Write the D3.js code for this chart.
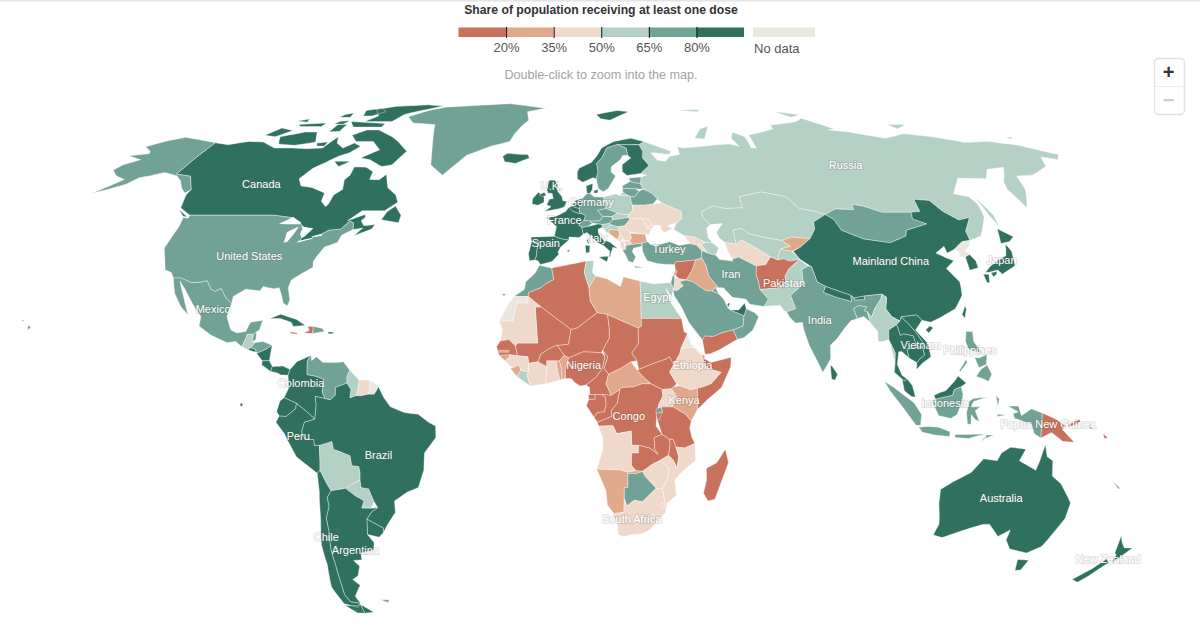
<!DOCTYPE html>
<html>
<head>
<meta charset="utf-8">
<style>
  body { margin: 0; background: #fff; }
  svg { display: block; font-family: "Liberation Sans", Arial, sans-serif; }
  .label { fill: #fff; font-size: 11px; text-anchor: middle; paint-order: stroke; stroke: rgba(90,90,90,.16); stroke-width: 2.5px; stroke-linejoin: round; }
</style>
<script src="https://cdn.jsdelivr.net/npm/d3@7"></script>
</head>
<body>
<svg id="map" width="1200" height="637"></svg>
<script>
// Legend
var legendTicks = [20, 35, 50, 65, 80];
var legendColors = ["#c8715d", "#e0a98b", "#efd9ca", "#b5d0c5", "#72a295", "#30705f"];
var noDataColor = "#eae7e0";

// Shares of population (percent, read from the colour bands; null is no data)
var northAmericaNames = ["Canada", "United States", "Alaska", "Greenland", "Mexico", "Guatemala", "Belize", "El Salvador", "Honduras", "Nicaragua", "Costa Rica", "Panama", "Cuba", "Jamaica", "Haiti", "Dominican Rep.", "Puerto Rico", "Hawaii"];
var northAmericaShares = [82, 70, 70, 70, 67, 52, 66, 82, 66, 81, 84, 81, 90, 18, 2, 65, 80, 70];

var southAmericaNames = ["Colombia", "Venezuela", "Guyana", "Suriname", "French Guiana", "Ecuador", "Peru", "Bolivia", "Paraguay", "Brazil", "Uruguay", "Argentina", "Chile", "Galapagos", "Falklands"];
var southAmericaShares = [81, 70, 60, 45, null, 84, 82, 55, 55, 83, 84, 88, 91, 84, 70];

var europeNames = ["Russia", "Iceland", "Ireland", "United Kingdom", "Norway", "Sweden", "Finland", "Denmark", "Estonia", "Latvia", "Lithuania", "Belarus", "Poland", "Germany", "Netherlands", "Belgium", "France", "Spain", "Portugal", "Italy", "Switzerland", "Austria", "Czechia", "Slovakia", "Hungary", "Slovenia", "Croatia", "Bosnia", "Serbia", "Montenegro", "Albania", "North Macedonia", "Greece", "Bulgaria", "Romania", "Moldova", "Ukraine"];
var europeShares = [55, 82, 82, 81, 81, 75, 81, 82, 66, 70, 70, 66, 60, 76, 80, 80, 81, 86, 92, 84, 70, 75, 65, 52, 65, 60, 56, 28, 48, 46, 44, 40, 72, 30, 42, 36, 37];

var africaNames = ["Morocco", "Western Sahara", "Algeria", "Tunisia", "Libya", "Egypt", "Sudan", "South Sudan", "Chad", "Niger", "Mali", "Mauritania", "Senegal", "Gambia", "Guinea-Bissau", "Guinea", "Sierra Leone", "Liberia", "Ivory Coast", "Ghana", "Togo", "Benin", "Burkina Faso", "Nigeria", "Cameroon", "Central African Rep.", "Gabon", "Eq. Guinea", "Congo Rep.", "Congo", "Uganda", "Kenya", "Tanzania", "Rwanda", "Burundi", "Ethiopia", "Eritrea", "Djibouti", "Somalia", "Angola", "Zambia", "Malawi", "Mozambique", "Zimbabwe", "Namibia", "Botswana", "South Africa", "Lesotho", "eSwatini", "Madagascar"];
var africaShares = [68, null, 18, 60, 25, 55, 15, 12, 5, 14, 12, 45, 8, 22, 28, 42, 30, 58, 42, 36, 25, 28, 14, 15, 5, 30, 13, 17, 12, 4, 40, 24, 6, 72, 1, 37, null, 22, 12, 38, 19, 12, 44, 41, 22, 66, 39, 40, 38, 6];

var asiaNames = ["Turkey", "Georgia", "Armenia", "Azerbaijan", "Kazakhstan", "Turkmenistan", "Uzbekistan", "Kyrgyzstan", "Tajikistan", "Afghanistan", "Pakistan", "Iran", "Iraq", "Syria", "Lebanon", "Israel", "Jordan", "Saudi Arabia", "Yemen", "Oman", "UAE", "Qatar", "Kuwait", "Mongolia", "Mainland China", "North Korea", "South Korea", "Japan", "Taiwan", "India", "Nepal", "Bhutan", "Bangladesh", "Sri Lanka", "Myanmar", "Thailand", "Laos", "Vietnam", "Cambodia", "Malaysia", "Indonesia", "Timor-Leste", "Philippines"];
var asiaShares = [68, 38, 36, 52, 54, 48, 55, 22, 52, 15, 58, 72, 25, 16, 32, 68, 46, 71, 3, 66, 98, 96, 78, 67, 88, null, 87, 80, 83, 72, 81, 88, 74, 82, 52, 82, 81, 90, 89, 84, 74, 66, 68];

var oceaniaNames = ["Australia", "New Zealand", "Papua New Guinea", "New Caledonia", "Solomon Islands"];
var oceaniaShares = [84, 82, 4, 66, 12];

var northAmericaOutlines = {
  "Canada": [
    "-141 69.6 -135 69 -128 70 -122 69.8 -115 68 -108 68 -102 67.8 -96 68 -94 71.5 -92 69.5 -88 68 -85 69.5 -81.5 68.5 -84 66.5 -87 65.5 -90 63.7 -93 62 -95 59 -92.5 57 -88 56.5 -82.5 55 -82 52.8 -79.5 51.3 -79 52 -79 54.5 -77 56 -78.5 58.7 -77.5 60 -78 62.4 -73.5 62.3 -70 61 -69.5 58.8 -66 58.7 -64.5 60.3 -61.5 56.5 -57.5 54.5 -55.8 52.5 -59 50.2 -66.5 50.2 -70 47.5 -65 49.2 -64.5 48.5 -65.5 47.5 -64 46.2 -60.5 46.5 -61 45.3 -66 43.6 -64 45.6 -67 45.2 -67.8 47 -69.2 47.4 -71 45.3 -74.7 45 -76.5 44 -79 43.3 -79 42.8 -83 42 -82.4 43 -82.5 45.3 -84.5 46.5 -88.4 48.3 -95 49 -123 49 -128 51 -130 54.5 -130 56 -135 59.7 -141 60.3",
    "-80 73.7 -72 71.5 -68 70 -62 67 -64.5 63 -68 62.5 -74 64.5 -78 65 -73 67.5 -78 70 -85 70 -89 72 -85 73.7",
    "-118 71.5 -110 73 -105 73 -101 69.8 -108 68.8 -115 69.2",
    "-125 72 -122 74.3 -116 73.5 -120 71.5",
    "-90 76.5 -87 78.5 -92 81 -85 82.3 -70 83 -62 82.5 -70 80.5 -76 79 -78 76.5",
    "-96 76.5 -80 75.8 -80 74.6 -92 74.6",
    "-117 75.5 -106 76 -106 74.8 -115 74.8",
    "-96 80.5 -90 81.5 -86 80 -90 78.5 -94 78.5",
    "-103 79 -100 79.5 -99 78 -104 78",
    "-100 75.5 -96 75.5 -96 73.3 -100 73",
    "-101 76.6 -97 76.8 -98 75.6 -102 75.7",
    "-120 76.7 -116 77.4 -115 76.3",
    "-100 69.5 -96 69.8 -96 68.6 -99 68.6",
    "-87 64 -81 64 -84 62.5",
    "-59 47.8 -53 47 -53 49 -56 51.5 -58 50",
    "-128 50.5 -123.5 48.5 -125 48.7"
  ],
  "United States": ["-123 49 -95 49 -88.4 48.3 -84.5 46.5 -82.5 45.3 -82.4 43 -83 42 -79 42.8 -79 43.3 -76.5 44 -74.7 45 -71 45.3 -69.2 47.4 -67.8 47 -67 45.2 -70 43.7 -70.5 41.8 -74 40.6 -75.5 38 -76 36.8 -75.5 35.3 -78 33.9 -81 32 -81.3 30 -80 26.8 -80.4 25.2 -81.8 26 -82.8 28 -84 30 -85.5 29.7 -89 30.3 -89.5 29.2 -94 29.6 -97.2 27.7 -97.2 25.9 -99.5 27.5 -101.5 29.8 -103 29 -104.5 29.6 -106.5 31.8 -108.2 31.4 -111 31.3 -114.8 32.5 -117.1 32.5 -118.5 34 -120.6 34.6 -122.4 37.5 -124.3 40.3 -124 46 -124.7 48.4 -123 48.2"],
  "Alaska": ["-141 69.6 -148 70.4 -156.5 71.3 -162 70 -166.5 68.4 -162 67 -161 66.3 -167.5 65.6 -161 64.5 -165 63 -166 61.5 -162 59.8 -157.5 58.8 -163 55 -165 54.5 -160 55.8 -155 57.5 -153 59.3 -150 59.8 -146 60.8 -140 59.8 -137 58.5 -134 56.5 -131 55 -130 56 -135 59.7 -141 60.3"],
  "Greenland": ["-73 78.2 -68 76 -58 75.5 -54 70 -51 65 -50 63 -44 60 -42 62 -38 65.8 -30 68.5 -23 70 -22 72.5 -20 75 -18 77 -20 80 -12 81.5 -30 83.5 -45 82.8 -60 82 -65 81 -68 80"],
  "Mexico": ["-114.8 32.5 -111 31.3 -108.2 31.4 -106.5 31.8 -104.5 29.6 -103 29 -101.5 29.8 -99.5 27.5 -97.2 25.9 -97.8 22.5 -96 19 -94 18.2 -91.5 18.6 -90.5 21 -87 21.5 -87.5 19 -88.3 18.5 -89.1 17.9 -91 17.8 -91 17.2 -92 14.6 -94 16 -96.5 15.7 -101.5 17.6 -105.5 20 -105.5 22.5 -109 26 -112.5 29.8 -114.7 31.7 -112 27.5 -110 24 -109.5 23 -112 25 -115 28.5 -117.1 32.5"],
  "Guatemala": ["-92 14.6 -91 17.2 -91 17.8 -89.1 17.9 -89.2 15.9 -88.3 15.7 -89.4 14.4 -90.1 13.8"],
  "Belize": ["-89.1 17.9 -88.3 18.5 -88.2 16.5 -89.2 15.9"],
  "El Salvador": ["-90.1 13.8 -89.4 14.4 -87.8 13.9 -87.8 13.2"],
  "Honduras": ["-89.4 14.4 -88.3 15.7 -86 16 -83.2 15 -84.8 14 -87.3 13 -87.8 13.4 -87.8 13.9"],
  "Nicaragua": ["-87.3 13 -84.8 14 -83.2 15 -83.6 11 -85.7 11 -87.6 13"],
  "Costa Rica": ["-85.7 11 -83.6 11 -82.6 9.5 -83 8.2 -85.7 9.9"],
  "Panama": ["-83 8.2 -82.6 9.5 -79.5 9.6 -77.4 8.7 -77.9 7.2 -80 7.3 -81 7.8"],
  "Cuba": ["-85 21.9 -82 23.1 -77 21.7 -74.2 20.2 -77.7 19.9 -78.5 21 -82 22"],
  "Jamaica": ["-78.3 18.5 -76.3 18.2 -76.3 17.9 -78.3 18.1"],
  "Haiti": ["-73.5 19.9 -71.7 19.9 -71.8 18.1 -74.4 18.2 -72.8 18.9"],
  "Dominican Rep.": ["-71.7 19.9 -69 19.4 -68.4 18.6 -71.8 18.1"],
  "Puerto Rico": ["-67.2 18.5 -65.6 18.4 -65.8 18 -67.2 18"],
  "Hawaii": ["-156 20.2 -155 19.7 -155.7 19 -156 19.7", "-158.2 21.6 -157.7 21.6 -157.7 21.2 -158.2 21.3"]
};

var southAmericaOutlines = {
  "Colombia": ["-77.4 8.7 -75.5 10.8 -71.5 12.4 -72.5 11 -72.4 7.4 -70 7 -67.5 6.2 -67.8 2.8 -67 1.2 -69.8 1.7 -69.5 -0.5 -70 -4.2 -72 -2.5 -75.2 -0.1 -78.8 1.4 -77.5 4 -77.9 7.2"],
  "Venezuela": ["-71.5 12.4 -71.3 11 -70 12 -68 10.6 -64 10.5 -62 10.7 -60 8.5 -60.7 7 -60.7 5.2 -64 4 -64 2 -65.5 0.8 -67 1.2 -67.8 2.8 -67.5 6.2 -70 7 -72.4 7.4 -72.5 11"],
  "Guyana": ["-60 8.5 -57.2 6 -57.3 4 -58 1.9 -59.8 1.3 -59.5 3.5 -60.7 5.2 -60.7 7"],
  "Suriname": ["-57.2 6 -54 5.9 -54 3.6 -54.5 2.3 -56.5 1.9 -58 1.9 -57.3 4"],
  "French Guiana": ["-54 5.9 -52 4.8 -51.5 4.2 -52.7 2.3 -54.5 2.3 -54 3.6"],
  "Ecuador": ["-78.8 1.4 -75.2 -0.1 -75.5 -1.5 -78.3 -3.5 -80.3 -3.4 -81 -2.2 -80 0.5"],
  "Peru": ["-80.3 -3.4 -78.3 -3.5 -75.5 -1.5 -75.2 -0.1 -72 -2.5 -70 -4.2 -73 -5 -74 -7.5 -73 -9.5 -70.5 -9.5 -70.5 -11 -69 -11 -69.2 -15 -69.5 -17.5 -70.4 -18.3 -76 -14 -79 -8 -81.3 -5"],
  "Bolivia": ["-69 -11 -65.3 -10 -65 -12 -60.3 -13.7 -60 -16.3 -58 -16.5 -57.8 -18 -58 -20 -62.6 -22.2 -67 -22.8 -68 -21 -69.5 -17.5 -69.2 -15"],
  "Paraguay": ["-58 -20 -62.6 -22.2 -60 -24.1 -57.6 -25.4 -58.6 -27.3 -55.8 -27.4 -54.6 -25.6 -55.8 -22.3 -58 -22"],
  "Brazil": ["-51.5 4.2 -50 1.5 -48 -1 -44 -2.5 -40 -2.9 -37 -5 -35 -6 -35 -9 -38.5 -13 -39 -17.5 -41 -22 -44.5 -23.2 -48.5 -25.5 -48.7 -28.5 -52 -32 -53.4 -33.7 -53.2 -32.5 -57.6 -30.2 -55.8 -28.3 -53.8 -27.2 -54.6 -25.6 -55.8 -22.3 -58 -22 -58 -20 -57.8 -18 -58 -16.5 -60 -16.3 -60.3 -13.7 -65 -12 -65.3 -10 -69 -11 -70.5 -11 -70.5 -9.5 -73 -9.5 -74 -7.5 -73 -5 -70 -4.2 -69.5 -0.5 -69.8 1.7 -67 1.2 -65.5 0.8 -64 2 -64 4 -60.7 5.2 -59.5 3.5 -59.8 1.3 -58 1.9 -56.5 1.9 -54.5 2.3 -52.7 2.3"],
  "Uruguay": ["-57.6 -30.2 -53.2 -32.5 -53.4 -33.7 -55 -34.9 -58.4 -34.2"],
  "Argentina": ["-67 -22.8 -62.6 -22.2 -60 -24.1 -57.6 -25.4 -58.6 -27.3 -55.8 -27.4 -53.8 -27.2 -55.8 -28.3 -57.6 -30.2 -58.4 -34.2 -57 -36.3 -57.7 -38.2 -62 -39 -62.3 -40.8 -65 -41 -63.7 -42.5 -65.3 -45 -67.5 -46 -65.8 -47.5 -69 -50.5 -68.4 -52.4 -71.5 -52 -72.3 -50 -71.7 -46 -71.2 -42 -71 -38 -70 -33.5 -69.8 -30 -68.3 -26.8 -68.4 -24.5", "-68.6 -52.7 -65.3 -54.8 -68.6 -55.1"],
  "Chile": ["-70.4 -18.3 -69.5 -17.5 -68 -21 -67 -22.8 -68.4 -24.5 -68.3 -26.8 -69.8 -30 -70 -33.5 -71 -38 -71.2 -42 -71.7 -46 -72.3 -50 -71.5 -52 -68.4 -52.4 -70 -53.5 -74 -52.5 -75.5 -48 -73.8 -42 -73.5 -37 -71.5 -30 -70.5 -23", "-68.6 -52.7 -68.6 -55.1 -71 -55 -74 -53 -70 -53"],
  "Galapagos": ["-91.5 0 -90.7 -0.2 -91 -0.9 -91.5 -0.8"],
  "Falklands": ["-61 -51.4 -58 -51.4 -59 -52.2"]
};

var europeOutlines = {
  "Russia": [
    "28.2 56.1 27.5 57.6 28 59.5 30 60 28 60.5 31.5 62.8 29.5 65 30 67 28.9 69 31 70 33 69.4 41 67 40 66 35 66.5 33 66.6 35 64.3 38 64 40 65.5 44 66 44 68.4 46 68 54 68.5 60 69 65 69.2 68.5 68.5 67 71 69 73 73 71.5 73 68 75 68 75 72 80 72.8 87 74 87 75.2 100 76.5 104 77.7 113 74 110 73.7 118 73 130 71 140 72.5 150 71.5 160 69.7 170 70 180 68.8 190 66 187 64.5 182 65.3 179 62.5 170 60 164 59.8 163 57.8 162 56 156.7 51 155.7 56 157 58 163 62.3 156 61.7 152 59 142 59.2 135.5 54.8 140 54 141 52 140 48.5 135 43.5 130.7 42.3 131 44.8 135 48.4 131 47.7 127.5 50 125.5 53 120.5 53.3 119.8 50 116.7 49.8 113 49.8 107 49.8 102 51.4 98.5 52 98 50.5 92 50.7 87.8 49.2 85 50 80 50.8 77 54 71 55 69 55.3 61 54 61 51 55 50.8 51 51.5 47 50 46.8 48.5 49 46.5 47.5 45.5 47.5 43 48.5 41.8 46.5 41.8 43 43.2 40 43.5 36.8 45.2 38 47 40 48 40 50 34 52.3 32.7 53.4 31 55",
    "142 54 143.5 49 142.8 46 142 49",
    "52 71 56 74 68 76.9 60 75 56 70.8",
    "20 54.4 22.8 54.4 22.8 55 21 55.3",
    "179 71 182 71.5 182 70.8",
    "138 75.5 146 75.5 140 74",
    "95 80 105 79 100 78",
    "50 80.5 60 81 60 80"
  ],
  "Iceland": ["-24 65.5 -22.5 66.4 -18 66.1 -14.5 66 -13.6 65 -18.5 63.4 -22.7 63.9"],
  "Ireland": ["-10 53.5 -8.3 55.2 -6.2 54 -6 52.5 -8 51.7 -10 52"],
  "United Kingdom": ["-5 58.6 -3 58.6 -2 57.5 -1.7 55.5 0 54 0.3 53 1.7 52.7 1 51.2 -1 50.7 -5.5 50 -3.5 51.3 -5 51.8 -4.3 53.3 -3 53.5 -3.5 54.9 -5 55 -5.7 56.5", "-8 54.5 -6.3 55.2 -5.5 54.4 -6.6 54"],
  "Norway": ["4.9 61 5 59 7 58 10.6 59.3 11.8 59 12.5 61 12 63.5 14 65 16 68 20 69 22 69 25.5 69 29 69.1 31 70 26 71 19 70 14 68 12 65.5 10 63.7 5.5 62", "12 79 22 80.5 27 80 18 77 14 77.5"],
  "Sweden": ["11.8 59 12.5 56.3 14.2 55.4 16 56.3 18.8 59.8 17.2 61 17.5 62.5 21 64.5 22 65.7 24 65.8 23.7 68 20.5 69 20 69 16 68 14 65 12 63.5 12.5 61"],
  "Finland": ["21.4 61 23 59.9 28 60.5 31.5 62.8 29.5 65 30 67 28.9 69 25.5 69 22 69 20.5 69 23.7 68 24 65.8 25 65 21.5 63"],
  "Denmark": ["8.2 57 10.6 57.7 10.4 56 9.6 54.9 8.6 54.9", "11 55.7 12.5 56 12.2 55 11 55"],
  "Estonia": ["23.5 59.2 28 59.5 27.5 57.6 25 58 24 58.3"],
  "Latvia": ["21 57 22.6 57.7 24 58.3 25 58 27.5 57.6 28.2 56.1 25.5 56.2 21 56.3"],
  "Lithuania": ["21 56.3 25.5 56.2 26.7 55.5 25 54 23.5 54 21 55.3"],
  "Belarus": ["23.5 54 25 54 26.7 55.5 28.2 56.1 31 55 32.7 53.4 31 52 28 51.7 24 51.7 23.6 52.6"],
  "Poland": ["14.2 53.9 18.5 54.8 19.8 54.4 23 54.3 23.5 54 23.6 52.6 24 51.7 24 50.4 22.6 49.1 19 49.4 15 50.8 14.7 52"],
  "Germany": ["7 53.5 8.6 54.9 9.6 54.9 11 54 14.2 53.9 14.7 52 15 50.8 12.2 50.3 13.8 48.7 13 47.5 10 47.4 7.6 47.6 8.2 49 6.2 49.5 6 51 7 52.3"],
  "Netherlands": ["3.4 51.4 4.8 53 7 53.5 7 52.3 6 51 5.8 50.8 4 51.3"],
  "Belgium": ["2.5 51.1 3.4 51.4 4 51.3 5.8 50.8 6 51 6.2 49.5 5.8 49.5 4 50 2.6 50.8"],
  "France": ["-1.7 43.4 -1.2 46 -4.7 48.4 -1.6 48.7 1.5 50 2.5 51.1 4 50 5.8 49.5 6.2 49.5 8.2 49 7.6 47.6 6 46.4 7 45.8 7.6 44 6.3 43.1 3 43.2 3 42.4 0.7 42.7", "8.6 42.3 9.5 43 9.4 41.4"],
  "Spain": ["-9.2 43.2 -1.7 43.4 0.7 42.7 3 42.4 0.5 40.6 -0.3 39.3 0 38.7 -2 36.8 -5.5 36 -6.4 37 -7.4 37.2 -7 38.2 -7 39.6 -6.5 41.9 -8.2 42 -8.8 42", "2.4 39.6 3.4 39.9 3.1 39.3", "-16.7 28.4 -15.4 28.2 -16 27.9"],
  "Portugal": ["-8.8 42 -8.2 42 -6.5 41.9 -7 39.6 -7 38.2 -7.4 37.2 -9 37 -9.5 38.8"],
  "Italy": ["7 45.8 9 46 12.5 46.7 13.7 46.5 13.7 45.7 12.3 45.3 12.5 44 14 42.5 16.2 41.8 18.5 40.2 17 40.5 16.5 39.5 16 38 15.7 38 16 39.5 14 41 12.3 41.7 10.5 43 8.8 44.4 7.6 44", "12.5 38 15.5 38.2 15 36.7", "8.2 41 9.7 41 9.6 39.2 8.5 39"],
  "Switzerland": ["6 46.4 7.6 47.6 9.6 47.5 10.4 46.8 9 46 7 45.8"],
  "Austria": ["9.6 47.5 10 47.4 13 47.5 13.8 48.7 16.9 48.6 17.1 47.8 16.1 46.8 13.7 46.5 12.5 46.7 10.4 46.9"],
  "Czechia": ["12.2 50.3 15 50.8 18.8 49.6 17 48.7 13.8 48.7"],
  "Slovakia": ["17 48.7 18.8 49.6 19 49.4 22.6 49.1 22.2 48.4 20 48.1 17.1 47.8"],
  "Hungary": ["16.1 46.8 17.1 47.8 20 48.1 22.2 48.4 22.9 48 21 46.2 18.8 45.9 16.6 46.4"],
  "Slovenia": ["13.7 46.5 16.1 46.8 16.6 46.4 15.3 45.5 13.7 45.5"],
  "Croatia": ["13.7 45.5 15.3 45.5 16.6 46.4 18.8 45.9 19 45 16 45.2 15.8 44.2 18.5 42.5 15 44.6 14.3 45.2"],
  "Bosnia": ["16 45.2 19 45 19.3 44 18.5 42.5 15.8 44.2"],
  "Serbia": ["19 45 18.8 45.9 21 46.2 22.6 44.5 23 43 22.4 42.3 20.5 42.3 19.3 44"],
  "Montenegro": ["18.5 42.5 19.3 44 20.3 42.8 19.3 41.9"],
  "Albania": ["19.3 41.9 20.5 42.3 20.5 41 21 40 20 39.7 19.4 41"],
  "North Macedonia": ["20.5 42.3 22.4 42.3 23 41.3 21 40.9"],
  "Greece": ["21 40 21 40.9 23 41.3 26.3 41.6 26 40.8 23.5 40.3 23 39.4 24 38 23 36.5 21.6 36.9 21 38.3 20 39.7", "23.6 35.6 26.3 35.2 23.6 35.2"],
  "Bulgaria": ["23 43 22.6 44.2 27.5 44 27.7 42.7 28 42 26.3 41.6 23 41.3 22.4 42.3"],
  "Romania": ["21 46.2 22.9 48 26.6 48.2 28.2 46.5 28.2 45.6 29.6 45.2 28.6 43.8 27.5 44 22.6 44.5"],
  "Ukraine": ["24 51.7 28 51.7 31 52 34 52.3 40 50 40 48 38 47 35 46.2 36.5 45.3 33.5 44.4 32.5 45.5 33 46.2 30.7 46.4 29.6 45.2 28.2 45.6 30 46.4 29 47.9 26.6 48.2 22.9 48 22.2 48.4 22.6 49.1 24 50.4"],
  "Moldova": ["26.6 48.2 29 47.9 30 46.4 28.2 45.6 28.2 46.5"]
};

var africaOutlines = {
  "Morocco": ["-5.9 35.8 -2 35.1 -1.2 32.1 -3.6 31 -5 30 -8.7 28.7 -8.7 27.7 -13 27.7 -10 29.5 -9.7 31.5 -7 33.8"],
  "Western Sahara": ["-13 27.7 -8.7 27.7 -8.7 26 -12 26 -13 21.3 -17 21.3 -14.5 26"],
  "Algeria": ["-2 35.1 8.6 36.9 8 34 9.5 30 9.9 26.5 12 23.5 6 19.5 4.2 19.1 3.2 19.8 -4.8 25 -8.7 27.7 -8.7 28.7 -5 30 -3.6 31 -1.2 32.1"],
  "Tunisia": ["8.6 36.9 11 37 10.5 34 11.5 33 9.5 30 8 34"],
  "Libya": ["11.5 33 15 32.3 19 30.3 20 32.8 25 31.7 25 20 24 19.5 15 23 12 23.5 9.9 26.5 9.5 30"],
  "Egypt": ["25 31.7 29 31 32.3 31.2 34.3 31.3 35 29.5 34.2 27.8 32.7 29.8 34 26 36.9 22 25 22"],
  "Sudan": ["25 22 36.9 22 37.5 18.5 38.5 18 36.5 14.3 36 12.7 34.2 10 33 12 32.2 11.5 27.5 10 24 8.7 23.5 11 22 13 24 15.5 24 19.5 25 20"],
  "South Sudan": ["24 8.7 27.5 10 32.2 11.5 33 12 34.2 10 33 8 35 5 33.5 3.7 30.8 3.5 27.5 5 25 7 23.5 8.6"],
  "Chad": ["15 23 24 19.5 24 15.5 22 13 23.5 11 21.8 10.7 18.8 9 15.2 7.5 13.9 9 15 12 13.5 13.7 15.5 16.9 15.5 19"],
  "Niger": ["12 23.5 15 23 15.5 19 15.5 16.9 13.5 13.7 13.2 13.1 7.8 13.3 3.6 11.7 2.3 12.4 0.2 15 3.5 15.3 4.2 19.1 6 19.5"],
  "Mali": ["-4.8 25 3.2 19.8 4.2 19.1 3.5 15.3 0.2 15 -2 14.2 -4.5 12.7 -5.3 10.7 -8 10.3 -8.3 12 -11.4 12.3 -12 14.8 -11.5 15.6 -5.5 15.6 -6.5 25"],
  "Mauritania": ["-17 21.3 -13 21.3 -12 26 -8.7 26 -8.7 27.7 -4.8 25 -6.5 25 -5.5 15.6 -11.5 15.6 -12 14.8 -14 16.5 -16.5 16.1 -16 19"],
  "Senegal": ["-16.5 16.1 -14 16.5 -12 14.8 -11.4 12.3 -16.7 12.4 -17.5 14.7"],
  "Gambia": ["-16.8 13.7 -13.8 13.7 -13.8 13.2 -16.8 13.2"],
  "Guinea-Bissau": ["-16.7 12.4 -13.7 12.6 -13.7 11.8 -15 11"],
  "Guinea": ["-15 11 -13.7 11.8 -13.7 12.6 -11.4 12.3 -8.3 12 -8 10.3 -8 8 -10 8.5 -10.8 9.5 -12.9 9.3"],
  "Sierra Leone": ["-13.3 9 -10.8 9.8 -10.3 8.5 -11.4 6.9"],
  "Liberia": ["-11.4 6.9 -10.3 8.5 -8 8 -8.5 7.5 -7.5 4.4"],
  "Ivory Coast": ["-8.5 7.5 -8 8 -8 10.3 -5.3 10.7 -2.8 9.5 -3 5 -7.5 4.4"],
  "Ghana": ["-3 5 -2.8 9.5 -2.8 11 0 11 0.5 8 1.2 6"],
  "Togo": ["0 11 0.9 11 1.6 9 1.7 6.2 1.2 6 0.5 8"],
  "Benin": ["0.9 11 2.3 12.4 3.6 11.7 2.7 9 2.7 6.4 1.7 6.2 1.6 9"],
  "Burkina Faso": ["-5.3 10.7 -4.5 12.7 -2 14.2 0.2 15 2.3 12.4 0.9 11 -2.8 11 -2.8 9.5"],
  "Nigeria": ["2.7 6.4 2.7 9 3.6 11.7 7.8 13.3 13.2 13.1 14.2 12 13.5 9 11.5 6.6 8.7 4.7 7 4.4 5.3 5.4 4.4 6.4"],
  "Cameroon": ["8.7 4.7 11.5 6.6 13.5 9 14.2 12 13.5 13.7 15 12 13.9 9 15.2 7.5 14.5 5 16 2 13.2 2.2 9.8 2.2 9.7 4"],
  "Central African Rep.": ["15.2 7.5 18.8 9 21.8 10.7 23.5 8.6 25 7 27.5 5 25 5 22.5 4.2 19 4 18.5 3.5 16 2 14.5 5"],
  "Gabon": ["9.5 1 11.3 1 11.3 2.2 13.2 2.2 14.4 1.4 14.5 -0.5 14 -2.3 12 -2.5 11 -3.7 8.8 -0.7"],
  "Eq. Guinea": ["9.4 2.2 11.3 2.2 11.3 1 9.5 1"],
  "Congo Rep.": ["13.2 2.2 16 2 18.5 3.5 17.8 0 16 -2 16.2 -3.5 13.1 -4.6 12 -5 11 -3.7 12 -2.5 14 -2.3 14.5 -0.5 14.4 1.4"],
  "Congo": ["18.5 3.5 19 4 22.5 4.2 25 5 27.5 5 30.8 3.5 31 1.8 29.7 -0.5 29.2 -3 29 -6 30.8 -8.2 28.5 -9 28.7 -12 29.8 -13.4 27.2 -11.7 24 -11 22 -11 21.8 -7.3 17.6 -8 16.5 -5.9 12.3 -6 12 -5 13.1 -4.6 16.2 -3.5 16 -2 17.8 0"],
  "Uganda": ["30.8 3.5 33.5 3.7 35 1.7 33.9 0 33.9 -1 29.7 -1.4 29.7 -0.5 31 1.8"],
  "Kenya": ["33.9 0 35 1.7 33.5 3.7 34 4.2 36 4.5 39 3.5 41 3.9 41 -1.7 39.2 -4.7 37.6 -3 33.9 -1"],
  "Tanzania": ["30.5 -1 33.9 -1 37.6 -3 39.2 -4.7 38.8 -6.5 39.5 -9 40.4 -10.5 37.5 -11.7 34.9 -11.5 34 -9.5 32.9 -9.4 30.8 -8.2 29.4 -4.4 30.8 -2.3"],
  "Rwanda": ["29 -1.5 30.5 -1.1 30.8 -2.3 29 -2.8"],
  "Burundi": ["29 -2.8 30.8 -2.3 30 -4.4 29.4 -4.4"],
  "Ethiopia": ["33 8 34.2 10 36 12.7 36.5 14.3 40 14.5 42.3 12.5 42.9 11 44 9 48 8 45 5 42 4 41 3.9 39 3.5 36 4.5 35 5"],
  "Eritrea": ["36.5 14.3 38.5 18 39.5 15.2 43 12.5 42.3 12.5 40 14.5"],
  "Djibouti": ["42.3 12.5 43.3 12.5 43.3 11.5 42.9 11"],
  "Somalia": ["42.9 11 43.3 11.5 45 10.5 51 11.9 50.8 9.5 48 4 44 1 41 -1.7 41 3.9 42 4 45 5 48 8 44 9"],
  "Angola": ["12.3 -6 16.5 -5.9 17.6 -8 21.8 -7.3 22 -11 24 -11 24 -13 22 -13 22 -16.2 23.4 -17.6 20.8 -18 18.5 -17.4 11.8 -17.2 13.6 -12 13.5 -9"],
  "Zambia": ["22 -13 24 -13 24 -11 27.2 -11.7 29.8 -13.4 28.7 -12 28.5 -9 30.8 -8.2 32.9 -9.4 33.2 -10.8 32.8 -13.6 30.2 -15 28 -16 25.2 -17.8 23.4 -17.6 22 -16.2"],
  "Malawi": ["32.9 -9.4 34 -9.5 34.9 -11.5 35.8 -14 35.3 -17 34.3 -15 32.8 -13.6 33.2 -10.8"],
  "Mozambique": ["40.4 -10.5 40.7 -15 37 -17.8 34.8 -20 35.5 -24 32.9 -26 32.8 -26.8 32 -25.5 31.3 -22.4 33 -19 32.9 -16.7 30.2 -15 32.8 -13.6 34.3 -15 35.3 -17 35.8 -14 34.9 -11.5 37.5 -11.7"],
  "Zimbabwe": ["25.2 -17.8 28 -16 30.2 -15 32.9 -16.7 33 -19 31.3 -22.4 29.4 -22.2 26 -19"],
  "Namibia": ["11.8 -17.2 18.5 -17.4 20.8 -18 23.4 -17.6 25.2 -17.8 23.4 -18.4 21 -18.3 21 -22 20 -22 20 -28.4 17 -28.8 15 -26.5 14.5 -22.7"],
  "Botswana": ["20 -22 21 -22 21 -18.3 23.4 -18.4 25.2 -17.8 26 -19 29.4 -22.2 26.5 -24.8 25.5 -25.7 23 -25.3 20.8 -26.8 20 -24.8"],
  "South Africa": ["16.5 -28.6 17 -28.8 20 -28.4 20 -24.8 20.8 -26.8 23 -25.3 25.5 -25.7 26.5 -24.8 29.4 -22.2 31.3 -22.4 32 -25.5 32.8 -26.8 32.5 -28.5 31 -30 28 -33 25.7 -34 22.5 -34.2 20 -34.8 18.4 -34.2 18.2 -31.7"],
  "Lesotho": ["27.2 -29.7 29 -28.8 29.3 -30 28 -30.6"],
  "eSwatini": ["31 -25.8 32 -26 32 -27.2 31 -27.2"],
  "Madagascar": ["49.3 -12 50.4 -15.5 47 -25 45 -25.5 43.5 -23.5 44.2 -20 44 -17 47 -15.5"]
};

var asiaOutlines = {
  "Turkey": ["26.3 41.6 28 42 29 41.2 31.5 41.2 35 42 38 41 41.5 41.5 43.5 41.1 44.8 39.7 44.5 37.7 42.5 37.2 38 36.8 36.2 36.7 36 36 32.5 36.1 30.5 36.3 27.5 37 26.3 39.3 26.2 40.3"],
  "Georgia": ["40 43.5 43 43.2 46.5 41.8 45 41.3 43.5 41.1 41.5 41.5"],
  "Armenia": ["43.5 41.1 45 41.3 46.5 39 44.8 39.7"],
  "Azerbaijan": ["45 41.3 46.5 41.8 48.5 41.8 50.3 40.3 49 38.4 46.5 39"],
  "Kazakhstan": ["47 50 51 51.5 55 50.8 61 51 61 54 69 55.3 71 55 77 54 80 50.8 85 50 87.8 49.2 83 47.2 82.5 45.3 80 42.8 74 43.2 70.8 42.3 66 43 61 44 59 45.5 56 45 56 41.3 52.5 41.8 51 43 50.5 44.5 53 46.8 49 46.5 46.8 48.5"],
  "Turkmenistan": ["52.5 41.8 56 41.3 58 42.5 61 41 66 38 64 36 61 35.6 56 38 54 37.4 53 39.5"],
  "Uzbekistan": ["56 45 59 45.5 61 44 66 43 70.8 42.3 73 40.8 69.5 40 68 37.2 66 38 61 41 58 42.5 56 41.3"],
  "Kyrgyzstan": ["70.8 42.3 74 43.2 80 42.8 76 40.5 73 39.5 69.5 40 73 40.8"],
  "Tajikistan": ["68 37.2 69.5 40 73 39.5 75 37.4 71.5 36.9 70 37.5"],
  "Afghanistan": ["61 35.6 64 36 66 38 68 37.2 70 37.5 71.5 36.9 74.8 37.3 71 35 69.3 33 69.3 31.5 66.5 29.9 61 29.5 60.9 31.5 60.5 33.5"],
  "Pakistan": ["61.6 25.1 66.5 25.4 67.5 24 68.2 23.7 71 24.5 70 28 74.5 31 74.8 34.7 77 35.6 74.8 37.3 71 35 69.3 33 69.3 31.5 66.5 29.9 61 29.5 63.2 27"],
  "Iran": ["44.8 39.7 46.5 39 49 38.4 50 37.3 54 36.9 54 37.4 56 38 61 35.6 60.5 33.5 60.9 31.5 61 29.5 63.2 27 61.6 25.1 57.5 25.7 56.5 27 52.5 27.5 50 30 48.5 30 46 33 45.5 35.8 44.5 37.7"],
  "Iraq": ["42.5 37.2 44.5 37.7 45.5 35.8 46 33 48.5 30 47.7 30 46.5 29.1 44.7 29.2 41 31.5 39 32 41 34.4"],
  "Syria": ["36.2 36.7 38 36.8 42.5 37.2 41 34.4 39 32 36.8 32.3 35.9 33.2 36 34.6 35.9 35.9"],
  "Lebanon": ["35.1 33.1 35.9 34.5 36.5 34.4 35.9 33.2"],
  "Israel": ["34.3 31.3 35 33.1 35.6 33 35.5 31.4 35 29.5"],
  "Jordan": ["35 29.5 35.5 31.4 35.6 32.7 36.8 32.3 39 32 37 31.5 38 30.5 36 29.2"],
  "Saudi Arabia": ["34.9 29.4 36 29.2 38 30.5 37 31.5 39 32 41 31.5 44.7 29.2 46.5 29.1 48.4 28.5 50 26.7 50.8 24.8 51.5 24.2 55.5 22.7 55 20 52 19 48.8 18.3 46 17.3 43.5 17.4 42.8 16.4 39 21 37 25 35 28"],
  "Yemen": ["42.8 16.4 43.5 17.4 46 17.3 48.8 18.3 52 19 53.1 16.6 48 14 45 12.8 43.4 12.7"],
  "Oman": ["52 19 55 20 55.5 22.7 56.3 24.5 58.7 23.5 59.8 22.4 57.8 19 55 17 53.1 16.6"],
  "UAE": ["51.5 24.2 54 24.2 56 26 56.3 24.5 55.5 22.7"],
  "Qatar": ["50.8 24.8 51.6 25.8 51.2 26.1 50.8 25.6"],
  "Kuwait": ["46.5 29.1 47.7 30 48.4 28.5"],
  "Mongolia": ["87.8 49.2 92 50.7 98 50.5 98.5 52 102 51.4 107 49.8 113 49.8 116.7 49.8 116 48 119.8 46.7 112 45 111 43.5 105 41.7 97 42.7 91 45 90 47.8"],
  "Mainland China": [
    "73.5 39.5 76 40.5 80 42.8 82.5 45.3 83 47.2 87.8 49.2 90 47.8 91 45 97 42.7 105 41.7 111 43.5 112 45 119.8 46.7 116 48 116.7 49.8 119.8 50 120.5 53.3 125.5 53 127.5 50 131 47.7 135 48.4 131 44.8 130.7 42.3 128 42 124.3 40 121.5 39 121.5 40.8 118 39 120.5 37.8 122.6 37 119.3 35 122 31.5 121.5 28 118.5 24.5 113.5 22.2 110.5 21 108 21.5 106.7 22.9 102 22.4 101.5 21.3 99.2 22.5 97.8 24.5 98.7 27.5 97.5 28.3 92 27.8 89 27.3 88 28 81 30.3 78.7 31.5 78 35.4 75 37.4",
    "108.7 19 110 20 111 19.6 109.5 18.2"
  ],
  "North Korea": ["124.3 40 128 42 130.7 42.3 129.7 41 127.5 39.7 128.3 38.6 126.7 38 125 38 125.3 39.5"],
  "South Korea": ["126.7 38 128.3 38.6 129.4 37 129.2 35.2 126.3 34.5 126.5 36.5"],
  "Japan": [
    "130.9 34 133 35.5 136.7 37.3 139.5 38.3 141.3 41.4 142 39.5 140.8 35.7 138.5 34.7 135.8 33.5 135 34.6 132 34",
    "140 41.5 141.7 45.4 145.3 43.3 143 42",
    "130 33.5 131.7 33.5 131 31.3 130.2 31.3",
    "132.5 33.9 134.5 34.2 134 33.4 132.8 32.8"
  ],
  "Taiwan": ["120.2 23 121.5 25.2 121.8 24.5 120.8 22"],
  "India": ["68.2 23.7 71 24.5 70 28 74.5 31 74.8 34.7 77 35.6 78 35.4 78.7 31.5 81 30.3 80 28.8 84 27.4 88 26.4 88 28 89 27.3 89 26.8 92 26.9 92 27.8 97.5 28.3 97 27.2 94.5 24.5 93.2 22.2 92.2 23.7 91.3 24 92.2 25 89.8 25.3 88.2 24.5 89 22 87 21.4 85 19.6 82.3 16.7 80.2 15 80 11.5 78.2 8.9 77.5 8 76 11 74 15 72.8 19 72.6 21 70.5 20.8 69 22.3"],
  "Nepal": ["81 30.3 88 28 88 26.4 84 27.4 80 28.8"],
  "Bhutan": ["89 27.3 92 27.8 92 26.9 89 26.8"],
  "Bangladesh": ["88.2 24.5 89.8 25.3 92.2 25 91.3 24 92.2 23.7 92.6 21 91 22.5 89 22"],
  "Sri Lanka": ["79.8 9.6 80.2 9.7 81.8 7.5 81 6 80 6.2"],
  "Myanmar": ["92.2 23.7 93.2 22.2 94.5 24.5 97 27.2 97.5 28.3 98.7 27.5 97.8 24.5 99.2 22.5 101.5 21.3 100.2 20.3 97.8 19 97.5 16.5 99 13 98.7 10.5 98.4 12 97.5 16.5 95.5 16 94.3 16 94.5 18.5 92.6 21"],
  "Thailand": ["100.2 20.3 100.5 20 101 17.6 102 18 104.8 17.5 105.5 14.5 102.5 14 102.9 11.7 100.9 13.4 100 13.3 99.3 10 100.5 7.2 102 6.2 101 5.7 99.5 7 98.3 8 98.7 10.5 99 13 97.5 16.5 97.8 19"],
  "Laos": ["100.2 20.3 101.5 21.3 102 22.4 104 20.5 106 18 107.5 15.5 107 14.5 105.5 14.5 104.8 17.5 102 18 101 17.6 100.5 20"],
  "Vietnam": ["102 22.4 106.7 22.9 108 21.5 105.7 19 108.8 15.5 109.3 12 106.7 10.4 104.8 8.7 105 10.5 106 11.5 107.5 12.5 107 14.5 107.5 15.5 106 18 104 20.5"],
  "Cambodia": ["102.9 11.7 102.5 14 105.5 14.5 107 14.5 107.5 12.5 106 11.5 105 10.5"],
  "Malaysia": ["100.4 6.4 101 5.7 102 6.2 103.4 4.5 104.2 1.5 103 1.7 101 3.2", "109.6 2 111.3 2.7 113 3.2 115.5 5.5 116.8 7 119 5.2 117.5 4.2 115.5 3.5 115 2 112.5 1.5 110 1"],
  "Indonesia": [
    "95.3 5.6 98 4 103.8 0 106 -3 105.8 -5.8 104.5 -5.8 100.4 -1 97 3",
    "105.3 -6.3 108 -6.1 111 -6.3 114.5 -7.5 114.4 -8.7 110 -8.3 106.5 -7.6",
    "109 0.5 110 1 112.5 1.5 115 2 115.5 3.5 117.5 4.2 118 2.3 117.5 0 116.3 -3 114.5 -4 111 -3.3 110 -1.5",
    "119.8 0.5 121 1.2 125 1.5 121 0.4 120.3 -1 123 -1 121.5 -2 122.8 -4.8 121.5 -4.2 120.4 -3 120.4 -5.6 119.4 -5.4 119 -2.5",
    "116 -8.2 119 -8.2 123 -8.1 125 -8 120 -9.2 116 -9",
    "123.5 -10.2 125 -9 124.5 -9",
    "131 -0.8 134 -0.8 135 -3.3 137.8 -1.5 141 -2.6 141 -9.1 139 -8 138 -5.5 133 -4 132.5 -2.8 134 -2.3",
    "127.5 2 128.5 1 128 -0.8",
    "128 -2.9 130.5 -3.1 128 -3.5"
  ],
  "Timor-Leste": ["125 -9.2 127.2 -8.3 125 -8.3"],
  "Philippines": [
    "120.5 18.6 122.4 18.6 122.3 16 124.2 13 122 13.5 120.5 14 119.9 16",
    "122 6.9 123.5 8.7 125.4 9.9 126.6 7.5 125.5 5.6 124 6.3",
    "122 11.9 123.2 11.7 125.7 12.6 125.2 10 123 9.2",
    "117.2 8.4 119.5 11.4 119.7 10.5 117.5 8.2"
  ]
};

var oceaniaOutlines = {
  "Australia": ["113.7 -22.5 114 -26 115.7 -31.5 115 -34.3 118 -35 124 -33 129 -31.6 131 -31.5 135 -34.7 138 -33 138 -35.6 140.5 -38 146.4 -39 150 -37.3 153.2 -30 153.3 -26 149 -21 146 -19 145.3 -15 143.5 -14 142.5 -10.8 141.5 -15 140.8 -17.5 135.5 -15 137 -12 132.5 -11.5 130 -13 129 -15 125 -14.5 122 -18 117 -20.5", "144.7 -40.7 148.3 -40.9 147.8 -43.5 146 -43.6"],
  "New Zealand": ["172.7 -34.5 174.5 -36.5 176 -37.7 178.5 -37.7 177 -39.5 175.3 -41.6 174.8 -39.5 174 -39", "172.7 -40.6 174.2 -41.5 171 -45 169 -46.7 166.5 -46 170.5 -43"],
  "Papua New Guinea": ["141 -2.6 145 -4.2 147.8 -6 147 -6.8 150.8 -10.2 147.5 -10 144 -7.7 141 -9.1", "148.5 -5.7 152 -4.2 152 -5.2 149 -6.2"],
  "New Caledonia": ["164 -20.2 167 -22.3 166.3 -22.3"],
  "Solomon Islands": ["159 -8 160.5 -9 159.5 -9.3", "155 -5.5 155.8 -6.8 155 -6.6"]
};

// White cut-outs for the big lakes
var lakeOutlines = [
  "-92 46.7 -88.4 48.5 -84.8 47 -85 46.6 -90 46.6",
  "-87.5 41.7 -88 44.5 -85 46 -85.5 44 -86.5 42",
  "-84.5 46 -80 45.5 -81.7 43.3 -82.5 43 -83.5 44 -83.5 45.5",
  "-83.4 41.7 -79 42.8 -79 43 -83 42.2",
  "-79.7 43.3 -76.3 44 -76.3 43.5 -79 43.2"
];

var labelNames = ["Russia", "Canada", "United States", "Mexico", "Colombia", "Peru", "Brazil", "Chile", "Argentina", "Spain", "France", "Germany", "U.K.", "Italy", "Turkey", "Egypt", "Nigeria", "Ethiopia", "Kenya", "Congo", "South Africa", "Iran", "Pakistan", "India", "Mainland China", "Japan", "Vietnam", "Philippines", "Indonesia", "Papua New Guinea", "Australia", "New Zealand"];
// lon, lat where each label sits
var labelLons = [105, -107, -96.5, -102.3, -74, -75, -52, -71.3, -63.4, -4.3, 1.3, 10, -4, 12, 34.6, 30, 8, 39.7, 37.1, 21.1, 22.4, 52.9, 68.6, 77.8, 103, 137.5, 106.6, 120.8, 112.8, 142.8, 132.2, 173];
var labelLats = [63, 57.5, 38.2, 24.4, 5.2, -8.6, -13.5, -35, -38.2, 41.7, 47.6, 52.6, 57, 43, 40.1, 27.6, 9.9, 9.9, 0.8, -3.4, -30.2, 33.6, 31.2, 21.6, 36.9, 37.2, 15, 13.8, 0, -5.5, -24.7, -40.5];

// Robinson table, 5 degree steps
var robinsonX = [1, .9986, .9954, .99, .9822, .973, .96, .9427, .9216, .8962, .8679, .835, .7986, .7597, .7186, .6732, .6213, .5722, .5322];
var robinsonY = [0, .062, .124, .186, .248, .31, .372, .434, .4958, .5571, .6176, .6769, .7346, .7903, .8435, .8936, .9394, .9761, 1];

function robinsonRaw(lambda, phi) {
  var deg = Math.abs(phi) * 180 / Math.PI;
  var i = Math.min(Math.floor(deg / 5), 17);
  var t = (deg - i * 5) / 5;
  var plen = robinsonX[i] + (robinsonX[i + 1] - robinsonX[i]) * t;
  var pdfe = robinsonY[i] + (robinsonY[i + 1] - robinsonY[i]) * t;
  return [0.8487 * plen * lambda, 1.331 * pdfe * (phi < 0 ? -1 : 1)];
}

var projection = d3.geoProjection(robinsonRaw)
  .rotate([-11, 0])
  .scale(233)
  .translate([594, 403]);
var path = d3.geoPath(projection);

var color = d3.scaleThreshold().domain(legendTicks).range(legendColors);

// Turns "lon lat lon lat" into a closed ring with short steps, so long borders stay straight-ish
function parseRing(text) {
  var nums = text.trim().split(/\s+/).map(Number);
  var pts = [];
  for (var i = 0; i < nums.length; i += 2) pts.push([nums[i], nums[i + 1]]);
  pts.push(pts[0]);
  var ring = [];
  for (var j = 0; j < pts.length - 1; j++) {
    var a = pts[j], b = pts[j + 1];
    var steps = Math.ceil(Math.max(Math.abs(b[0] - a[0]), Math.abs(b[1] - a[1])) / 2) || 1;
    for (var s = 0; s < steps; s++) {
      ring.push([a[0] + (b[0] - a[0]) * s / steps, a[1] + (b[1] - a[1]) * s / steps]);
    }
  }
  ring.push(pts[0]);
  return ring;
}

// d3.geo wants the small side inside, so flip any ring that came out the long way round
function ringFeature(text) {
  var f = { type: "Polygon", coordinates: [parseRing(text)] };
  if (d3.geoArea(f) > 2 * Math.PI) f.coordinates[0].reverse();
  return f;
}

function countryRows(names, shares, outlines) {
  return names.map(function (name, i) {
    return { name: name, share: shares[i], rings: outlines[name] || [] };
  });
}

var rows = [].concat(
  countryRows(northAmericaNames, northAmericaShares, northAmericaOutlines),
  countryRows(southAmericaNames, southAmericaShares, southAmericaOutlines),
  countryRows(europeNames, europeShares, europeOutlines),
  countryRows(africaNames, africaShares, africaOutlines),
  countryRows(asiaNames, asiaShares, asiaOutlines),
  countryRows(oceaniaNames, oceaniaShares, oceaniaOutlines)
);

var svg = d3.select("#map");

svg.append("rect").attr("width", 1200).attr("height", 1.5).attr("fill", "#e4e4e4");

// Countries
var land = svg.append("g");
rows.forEach(function (row) {
  land.append("path")
    .datum({ type: "MultiPolygon", coordinates: row.rings.map(function (r) { return ringFeature(r).coordinates; }) })
    .attr("d", path)
    .attr("fill", row.share === null ? noDataColor : color(row.share))
    .attr("stroke", "#fff")
    .attr("stroke-opacity", 0.75)
    .attr("stroke-width", 0.5)
    .attr("stroke-linejoin", "round");
});

land.selectAll("path.lake")
  .data(lakeOutlines)
  .join("path")
  .attr("class", "lake")
  .attr("d", function (d) { return path(ringFeature(d)); })
  .attr("fill", "#fff");

// Labels
svg.append("g").selectAll("text")
  .data(labelNames)
  .join("text")
  .attr("class", "label")
  .attr("x", function (d, i) { return projection([labelLons[i], labelLats[i]])[0]; })
  .attr("y", function (d, i) { return projection([labelLons[i], labelLats[i]])[1]; })
  .attr("dy", "0.35em")
  .text(function (d) { return d; });

// Legend
var legendScale = d3.scaleLinear().domain([5, 95]).range([458.5, 744]);
var legendEdges = [5].concat(legendTicks, [95]);

svg.append("text")
  .attr("x", 601).attr("y", 14)
  .attr("text-anchor", "middle")
  .attr("font-size", 12.2).attr("font-weight", "bold").attr("fill", "#333")
  .text("Share of population receiving at least one dose");

svg.append("g").selectAll("rect")
  .data(legendColors)
  .join("rect")
  .attr("x", function (d, i) { return legendScale(legendEdges[i]); })
  .attr("width", function (d, i) { return legendScale(legendEdges[i + 1]) - legendScale(legendEdges[i]); })
  .attr("y", 27.5).attr("height", 9.5)
  .attr("fill", function (d) { return d; });

var legendAxis = svg.append("g")
  .attr("transform", "translate(0,27)")
  .call(d3.axisBottom(legendScale).tickValues(legendTicks).tickSize(11).tickPadding(5).tickFormat(function (d) { return d + "%"; }));
legendAxis.select(".domain").remove();
legendAxis.selectAll("line").attr("stroke", "#111");
legendAxis.selectAll("text").attr("font-size", 13).attr("font-family", "Liberation Sans, Arial, sans-serif").attr("fill", "#555");

svg.append("rect").attr("x", 753).attr("y", 27.5).attr("width", 62).attr("height", 9.5).attr("fill", noDataColor);
svg.append("text").attr("x", 754).attr("y", 53).attr("font-size", 13).attr("fill", "#555").text("No data");

svg.append("text")
  .attr("x", 601).attr("y", 79)
  .attr("text-anchor", "middle")
  .attr("font-size", 12.6).attr("fill", "#a3a3a3")
  .text("Double-click to zoom into the map.");

// Zoom buttons
var zoomBox = svg.append("g");
zoomBox.append("rect").attr("x", 1154.5).attr("y", 58.5).attr("width", 30).attr("height", 56).attr("rx", 4)
  .attr("fill", "#fff").attr("stroke", "#e2e2e2").attr("stroke-width", 1.5);
zoomBox.append("line").attr("x1", 1155).attr("x2", 1184).attr("y1", 86.5).attr("y2", 86.5).attr("stroke", "#eee");
zoomBox.append("text").attr("x", 1168.5).attr("y", 79).attr("text-anchor", "middle")
  .attr("font-size", 20).attr("font-weight", "bold").attr("fill", "#333").text("+");
zoomBox.append("text").attr("x", 1168.5).attr("y", 107).attr("text-anchor", "middle")
  .attr("font-size", 20).attr("font-weight", "bold").attr("fill", "#ccc").text("\u2212");
</script>
</body>
</html>
